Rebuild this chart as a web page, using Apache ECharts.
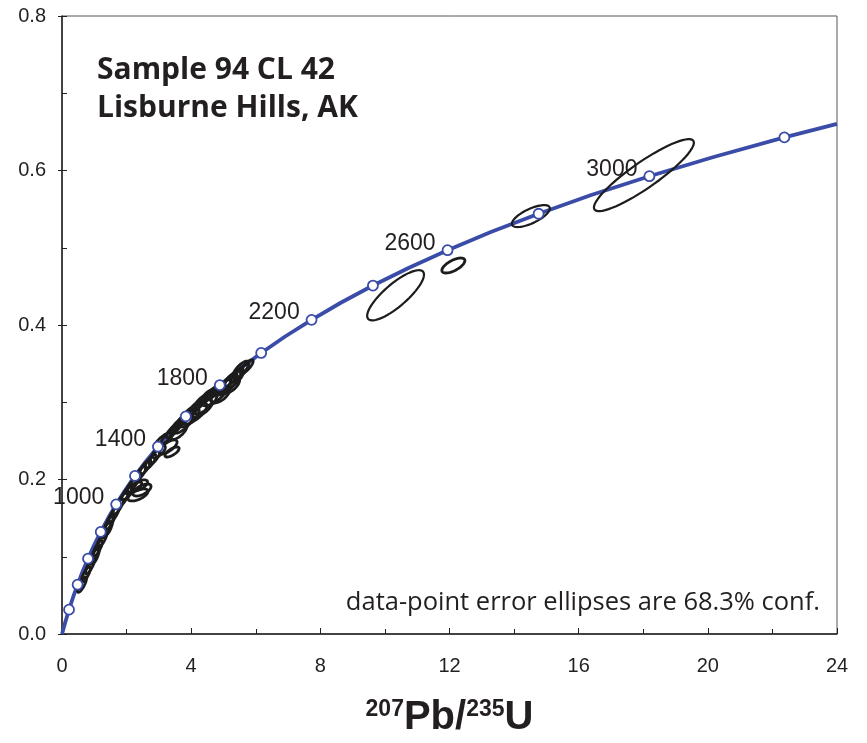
<!DOCTYPE html>
<html>
<head>
<meta charset="utf-8">
<script src="https://cdn.jsdelivr.net/npm/echarts@6/dist/echarts.min.js"></script>
<style>
html, body { margin: 0; padding: 0; background: #fff; }
#chart { width: 867px; height: 743px; }
</style>
</head>
<body>
<div id="chart"></div>
<script>
// concordia curve (age in Ma)
var concAge = [0, 100, 200, 300, 400, 500, 600, 700, 800, 900, 1000, 1100, 1200, 1300, 1400, 1500, 1600, 1700,
    1800, 1900, 2000, 2100, 2200, 2300, 2400, 2500, 2600, 2700, 2800, 2900, 3000, 3100, 3200, 3268];
var concX = [0, 0.1035, 0.218, 0.344, 0.483, 0.636, 0.806, 0.992, 1.199, 1.426, 1.677, 1.955, 2.260, 2.598, 2.970, 3.381, 3.834, 4.335,
    4.887, 5.496, 6.168, 6.910, 7.729, 8.633, 9.629, 10.73, 11.94, 13.28, 14.76, 16.39, 18.19, 20.18, 22.37, 24];
var concY = [0, 0.0156, 0.0315, 0.0476, 0.0640, 0.0807, 0.0975, 0.1147, 0.1322, 0.1498, 0.1678, 0.1861, 0.2046, 0.2234, 0.2426, 0.2620, 0.2817, 0.3018,
    0.3221, 0.3428, 0.3638, 0.3851, 0.4067, 0.4288, 0.4511, 0.4738, 0.4968, 0.5203, 0.5440, 0.5682, 0.5926, 0.6175, 0.6428, 0.6603];
var labelledAges = [1000, 1400, 1800, 2200, 2600, 3000];

// error ellipses: [centre x, centre y, half-width x, half-width y, correlation]
var ellipses = [
    [0.62, 0.064, 0.14, 0.010, 0.8],
    [0.74, 0.077, 0.14, 0.010, 0.8],
    [0.87, 0.088, 0.14, 0.010, 0.8],
    [0.99, 0.100, 0.14, 0.010, 0.8],
    [1.11, 0.111, 0.14, 0.010, 0.8],
    [1.24, 0.122, 0.15, 0.010, 0.8],
    [1.36, 0.134, 0.15, 0.010, 0.8],
    [1.48, 0.145, 0.15, 0.010, 0.8],
    [1.61, 0.155, 0.16, 0.010, 0.8],
    [1.74, 0.165, 0.16, 0.010, 0.8],
    [1.88, 0.174, 0.17, 0.0095, 0.8],
    [2.02, 0.183, 0.17, 0.0095, 0.8],
    [2.15, 0.191, 0.17, 0.0095, 0.8],
    [2.28, 0.199, 0.17, 0.0095, 0.8],
    [2.43, 0.208, 0.17, 0.0095, 0.8],
    [2.58, 0.216, 0.17, 0.0095, 0.8],
    [2.74, 0.223, 0.17, 0.0095, 0.8],
    [2.87, 0.229, 0.17, 0.0095, 0.8],
    [2.354, 0.1800, 0.31, 0.0078, 0.6],
    [2.477, 0.1864, 0.28, 0.0078, 0.6],
    [2.25, 0.1903, 0.22, 0.0065, 0.7],
    [2.40, 0.1925, 0.25, 0.0070, 0.6],
    [3.283, 0.2421, 0.28, 0.0091, 0.7],
    [3.407, 0.2356, 0.22, 0.0065, 0.7],
    [3.128, 0.2511, 0.25, 0.0091, 0.8],
    [3.00, 0.236, 0.20, 0.0080, 0.7],
    [3.27, 0.255, 0.20, 0.0090, 0.8],
    [3.43, 0.263, 0.20, 0.0090, 0.8],
    [3.58, 0.270, 0.20, 0.0090, 0.8],
    [3.74, 0.277, 0.20, 0.0090, 0.8],
    [3.92, 0.285, 0.20, 0.0090, 0.8],
    [4.11, 0.292, 0.20, 0.0090, 0.8],
    [4.29, 0.300, 0.20, 0.0090, 0.8],
    [4.48, 0.307, 0.20, 0.0090, 0.8],
    [4.66, 0.312, 0.20, 0.0090, 0.8],
    [4.85, 0.317, 0.20, 0.0090, 0.8],
    [5.04, 0.322, 0.20, 0.0090, 0.8],
    [5.22, 0.329, 0.20, 0.0090, 0.8],
    [5.41, 0.335, 0.20, 0.0090, 0.8],
    [5.56, 0.340, 0.20, 0.0090, 0.8],
    [5.72, 0.346, 0.20, 0.0090, 0.8],
    [3.75, 0.272, 0.30, 0.0120, 0.75],
    [3.95, 0.280, 0.30, 0.0120, 0.75],
    [4.12, 0.2854, 0.37, 0.0135, 0.75],
    [4.43, 0.2983, 0.37, 0.0135, 0.75],
    [4.71, 0.3074, 0.37, 0.0120, 0.75],
    [5.08, 0.3203, 0.31, 0.0110, 0.75],
    [5.30, 0.3294, 0.31, 0.0120, 0.75],
    [5.54, 0.3423, 0.25, 0.0110, 0.75],
    [3.62, 0.262, 0.25, 0.0100, 0.7],
    [4.30, 0.293, 0.35, 0.0120, 0.6],
    [4.90, 0.310, 0.30, 0.0110, 0.6],
    [5.20, 0.322, 0.30, 0.0110, 0.6],
    [1.05, 0.104, 0.12, 0.0120, 0.7],
    [1.45, 0.140, 0.13, 0.0120, 0.7],
    [10.33, 0.4385, 0.88, 0.0325, 0.82],
    [12.12, 0.4770, 0.356, 0.0097, 0.65],
    [14.52, 0.5410, 0.588, 0.0142, 0.7],
    [18.02, 0.5940, 1.548, 0.0466, 0.9]
];

var curveData = concX.map(function (x, i) { return [x, concY[i]]; });
var markerData = [];
concAge.forEach(function (age, i) {
    if (age > 0 && age % 200 === 0) {
        markerData.push([concX[i], concY[i], age]);
    }
});

function renderEllipse(params, api) {
    var cx = api.value(0), cy = api.value(1);
    var sx = api.value(2), sy = api.value(3), r = api.value(4);
    var k = Math.sqrt(1 - r * r);
    var pts = [];
    for (var i = 0; i < 64; i++) {
        var t = i / 64 * Math.PI * 2;
        pts.push(api.coord([cx + sx * Math.cos(t), cy + sy * (r * Math.cos(t) + k * Math.sin(t))]));
    }
    return {
        type: 'polygon',
        shape: { points: pts },
        style: { fill: 'none', stroke: '#1c1c1c', lineWidth: sx < 0.5 ? 2.8 : 2.2 }
    };
}

var tickFont = { fontFamily: 'Liberation Sans', fontSize: 20, color: '#231f20' };
var blue = '#3a4ca8';

var chart = echarts.init(document.getElementById('chart'));
chart.setOption({
    backgroundColor: '#fff',
    animation: false,
    grid: [
        { left: 62, right: 30, top: 16, bottom: 109, show: true, borderColor: '#555', borderWidth: 1 },
        { left: 62, right: 30, top: 16, bottom: 109 }   // only for the inward 0.1 ticks
    ],
    xAxis: [{
        type: 'value', min: 0, max: 24, interval: 4,
        axisLine: { lineStyle: { color: '#231f20', width: 1.5 } },
        axisTick: { inside: true, length: 6, lineStyle: { color: '#231f20' } },
        minorTick: { show: true, splitNumber: 2, length: 5, lineStyle: { color: '#231f20' } },
        splitLine: { show: false },
        axisLabel: Object.assign({ margin: 22 }, tickFont),
        name: '{sup|207}{b|Pb/}{sup|235}{b|U}',
        nameLocation: 'middle',
        nameGap: 64,
        nameTextStyle: {
            rich: {
                b: { fontFamily: 'Liberation Sans', fontWeight: 'bold', fontSize: 40, color: '#231f20' },
                sup: { fontFamily: 'Liberation Sans', fontWeight: 'bold', fontSize: 23, color: '#231f20', verticalAlign: 'top' }
            }
        }
    }, {
        gridIndex: 1, type: 'value', min: 0, max: 24, show: false
    }],
    yAxis: [{
        type: 'value', min: 0, max: 0.8, interval: 0.2,
        axisLine: { show: true, lineStyle: { color: '#231f20', width: 1.5 } },
        axisTick: { show: true, length: 4, lineStyle: { color: '#231f20' } },
        splitLine: { show: false },
        axisLabel: Object.assign({ margin: 16, formatter: function (v) { return v.toFixed(1); } }, tickFont)
    }, {
        gridIndex: 1, type: 'value', min: 0, max: 0.8, interval: 0.1,
        axisLine: { show: false },
        axisTick: { show: true, inside: true, length: 5, lineStyle: { color: '#231f20' } },
        axisLabel: { show: false },
        splitLine: { show: false }
    }],
    graphic: [{
        type: 'text', left: 97, top: 51,
        style: {
            text: 'Sample 94 CL 42\nLisburne Hills, AK',
            font: 'bold 30px "Open Sans"',
            lineHeight: 38,
            fill: '#231f20'
        }
    }, {
        type: 'text', right: 47, top: 588,
        style: {
            text: 'data-point error ellipses are 68.3% conf.',
            font: '25.5px "Open Sans"',
            lineHeight: 30,
            fill: '#231f20'
        }
    }],
    series: [{
        type: 'line',
        data: curveData,
        showSymbol: false,
        lineStyle: { color: blue, width: 3.8 },
        z: 2
    }, {
        type: 'custom',
        data: ellipses,
        encode: { x: 0, y: 1 },
        renderItem: renderEllipse,
        z: 3
    }, {
        type: 'scatter',
        data: markerData,
        symbol: 'circle',
        symbolSize: 10,
        itemStyle: { color: '#fff', borderColor: blue, borderWidth: 1.8, opacity: 1 },
        label: {
            show: true,
            position: 'left',
            distance: 6,
            offset: [0, -7],
            fontFamily: 'Liberation Sans',
            fontSize: 23,
            color: '#231f20',
            formatter: function (p) {
                return labelledAges.indexOf(p.value[2]) >= 0 ? String(p.value[2]) : '';
            }
        },
        z: 4
    }]
});
</script>
</body>
</html>
